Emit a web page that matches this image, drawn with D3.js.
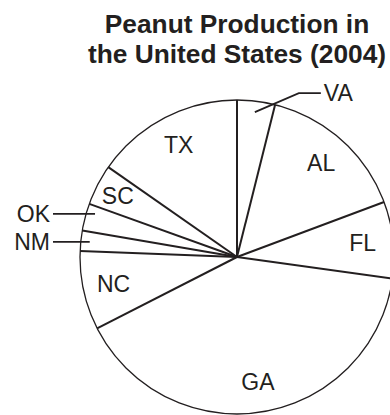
<!DOCTYPE html>
<html>
<head>
<meta charset="utf-8">
<script src="https://cdn.jsdelivr.net/npm/d3@7"></script>
<style>
  html, body { margin: 0; padding: 0; background: #fff; }
  svg { display: block; }
</style>
</head>
<body>
<svg id="chart" width="390" height="415"></svg>
<script>
// Share of U.S. peanut production by state, 2004 (percent), clockwise from 12 o'clock
const states = ["VA", "AL", "FL", "GA", "NC", "NM", "OK", "SC", "TX"];
const shares = [3.9, 15.4, 7.9, 40.3, 8.1, 2.1, 2.8, 4.2, 15.3];
const titleLines = ["Peanut Production in", "the United States (2004)"];

const ink = "#231f20";
const font = "'Liberation Sans', Arial, Helvetica, sans-serif";
const labelSize = 23;
const cx = 237, cy = 257, R = 157;

const svg = d3.select("#chart");

// Title
svg.append("g")
  .selectAll("text")
  .data(titleLines)
  .join("text")
  .attr("x", cx)
  .attr("y", (d, i) => 33 + i * 30)
  .attr("text-anchor", "middle")
  .attr("font-family", font)
  .attr("font-weight", "bold")
  .attr("font-size", 26.3)
  .attr("fill", ink)
  .text(d => d);

const data = states.map((s, i) => ({ state: s, value: shares[i] }));
const pie = d3.pie().value(d => d.value).sort(null);
const arcs = pie(data);

const g = svg.append("g").attr("transform", `translate(${cx},${cy})`);
const arc = d3.arc().innerRadius(0).outerRadius(R);

// Slices (white fill)
g.selectAll("path.slice")
  .data(arcs)
  .join("path")
  .attr("class", "slice")
  .attr("d", arc)
  .attr("fill", "#fff")
  .attr("stroke", "none");

// Outer rim
g.append("circle")
  .attr("r", R)
  .attr("fill", "none")
  .attr("stroke", ink)
  .attr("stroke-width", 1.3);

// Radial dividers at each slice start angle
const pt = (a, r) => [r * Math.sin(a), -r * Math.cos(a)];
g.selectAll("line.divider")
  .data(arcs)
  .join("line")
  .attr("class", "divider")
  .attr("x1", 0).attr("y1", 0)
  .attr("x2", d => pt(d.startAngle, R)[0])
  .attr("y2", d => pt(d.startAngle, R)[1])
  .attr("stroke", ink)
  .attr("stroke-width", 2);

const mid = d => (d.startAngle + d.endAngle) / 2;
const isOutside = d => d.data.value < 4;

// Labels inside the larger slices
const inside = arcs.filter(d => !isOutside(d));
const inR = d => R * (d.data.value < 5 ? 0.855 : 0.805);
g.selectAll("text.inner")
  .data(inside)
  .join("text")
  .attr("class", "inner")
  .attr("x", d => pt(mid(d), inR(d))[0])
  .attr("y", d => pt(mid(d), inR(d))[1])
  .attr("dy", "0.36em")
  .attr("text-anchor", "middle")
  .attr("font-family", font)
  .attr("font-size", labelSize)
  .attr("fill", ink)
  .text(d => d.data.state);

// Leader-line labels for the thin slices
const outside = arcs.filter(isOutside);
const drawLeader = (pts, tx, ty, anchor, name) => {
  g.append("path")
    .attr("d", d3.line()(pts))
    .attr("fill", "none")
    .attr("stroke", ink)
    .attr("stroke-width", 1.8);
  g.append("text")
    .attr("x", tx)
    .attr("y", ty)
    .attr("dy", "0.36em")
    .attr("text-anchor", anchor)
    .attr("font-family", font)
    .attr("font-size", labelSize)
    .attr("fill", ink)
    .text(name);
};

// Right side: short diagonal then horizontal run
outside.filter(d => mid(d) < Math.PI).forEach(d => {
  const p0 = pt(mid(d), R * 0.93);
  const elbow = [p0[0] + 44, p0[1] - 19];
  const end = [elbow[0] + 22, elbow[1]];
  drawLeader([p0, elbow, end], end[0] + 3, end[1], "start", d.data.state);
});

// Left side: horizontal leaders, stacked upward so labels keep apart
const left = outside
  .filter(d => mid(d) >= Math.PI)
  .map(d => ({ d, y: pt(mid(d), R * 0.93)[1] }))
  .sort((a, b) => b.y - a.y);
const gap = 28;
left.forEach((o, i) => {
  if (i > 0 && left[i - 1].y - o.y < gap) o.y = left[i - 1].y - gap;
});
left.forEach(o => {
  const edgeX = -Math.sqrt(R * R - o.y * o.y);
  const end = -R - 27;
  drawLeader([[edgeX + 9, o.y], [end, o.y]], end - 3, o.y, "end", o.d.data.state);
});
</script>
</body>
</html>
